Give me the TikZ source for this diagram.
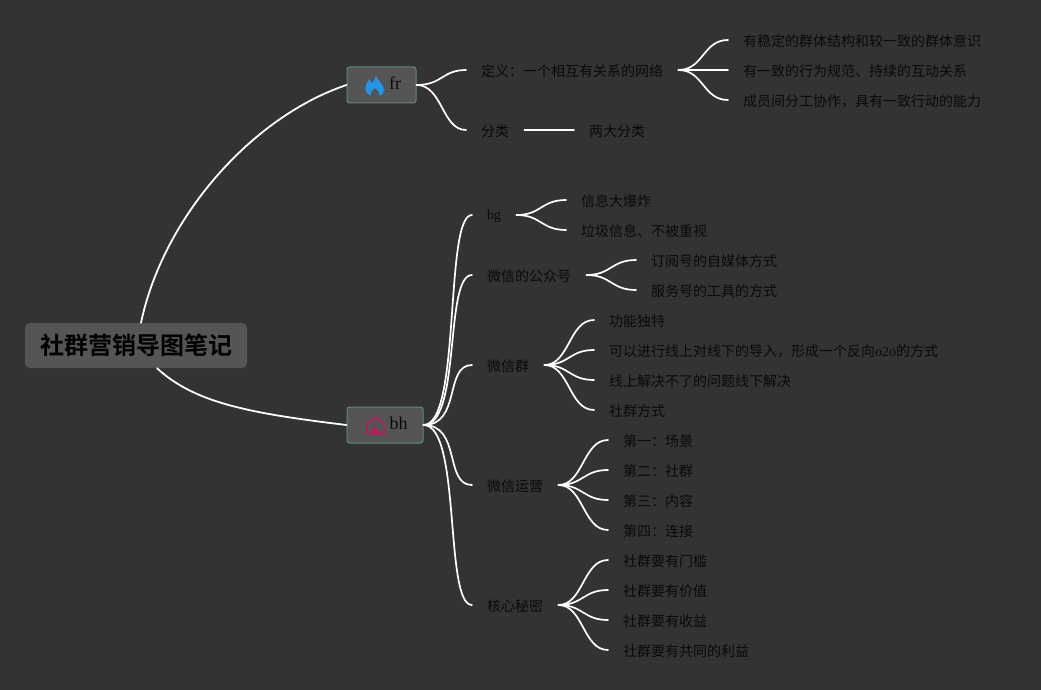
\documentclass[tikz,border=0pt]{standalone}
\usepackage{fontspec}
\setmainfont{Liberation Serif}
\newfontfamily\cjk{Noto Sans CJK SC}
\newfontfamily\cjkb{Noto Sans CJK SC Bold}
\definecolor{bgc}{HTML}{333333}
\definecolor{boxc}{HTML}{555555}
\definecolor{edgec}{HTML}{5E8A80}
\definecolor{inkc}{HTML}{0A0A0A}
\definecolor{flamec}{HTML}{2196E8}
\definecolor{housec}{HTML}{C2185B}
\tikzset{
  x=1pt,y=-1pt,
  item/.style={anchor=west,inner xsep=15pt,inner ysep=0pt,text=inkc,font=\cjk\fontsize{14}{14}\selectfont,minimum height=16pt},
  branch/.style={draw=edgec,line width=1pt,fill=boxc,rounded corners=2.5pt,text=inkc,font=\fontsize{18}{18}\selectfont,minimum height=36pt,inner xsep=0pt,inner ysep=0pt},
  rootbox/.style={fill=boxc,rounded corners=5pt,text=black,font=\cjkb\fontsize{24}{24}\selectfont,minimum width=222pt,minimum height=45pt,inner sep=0pt},
  link/.style={draw=white,line width=1.7pt,line cap=round},
}
\newcommand{\lat}[1]{{\rmfamily #1}}
\begin{document}
\begin{tikzpicture}
\useasboundingbox (0,0) rectangle (1041,690);
\fill[bgc] (0,0) rectangle (1041,690);

\node[rootbox] (root) at (136,345.5) {\raisebox{-3pt}{社群营销导图笔记}};
\node[branch,minimum width=69pt] (fr) at (381.5,85) {\hspace*{27pt}\raisebox{4pt}{fr}};
\node[branch,minimum width=76pt] (bh) at (385,425) {\hspace*{27pt}\raisebox{4pt}{bh}};

% flame icon
\fill[flamec] (376,75) .. controls (377,81) and (384,84) .. (384,90)
  .. controls (384,93) and (382,95) .. (379,95.5) .. controls (380,93) and (378,90) .. (375,88)
  .. controls (372,90) and (370,93) .. (371,95.5) .. controls (368,95) and (365.5,92) .. (365.5,88)
  .. controls (365.5,85) and (368,82) .. (369,79) .. controls (370,81) and (371,82) .. (372,83)
  .. controls (374,81) and (376,78) .. (376,75) -- cycle;
% house icon
\draw[housec,line width=1.5pt,line join=round] (367,433.5) -- (367,424) -- (375,417) -- (384,424) -- (384,433.5) -- cycle;
\fill[housec] (370,434) .. controls (370,431) and (372,430) .. (373.5,429) -- (375,426) -- (376.5,429) .. controls (378,430) and (380,431) .. (380,434) -- cycle;

% first level
\node[item] (def) at (466,71) {定义：一个相互有关系的网络};
\node[item] (cls) at (466,131) {分类};
\node[item] (two) at (574,131) {两大分类};
\node[item] (d1) at (728,41) {有稳定的群体结构和较一致的群体意识};
\node[item] (d2) at (728,71) {有一致的行为规范、持续的互动关系};
\node[item] (d3) at (728,101) {成员间分工协作，具有一致行动的能力};

\node[item] (bg) at (472,216) {\raisebox{-3pt}{\lat{bg}}};
\node[item] (gzh) at (472,276) {微信的公众号};
\node[item] (wxq) at (472,366) {微信群};
\node[item] (yy) at (472,486) {微信运营};
\node[item] (mm) at (472,606) {核心秘密};

\node[item] (bg1) at (566,201) {信息大爆炸};
\node[item] (bg2) at (566,231) {垃圾信息、不被重视};
\node[item] (g1) at (636,261) {订阅号的自媒体方式};
\node[item] (g2) at (636,291) {服务号的工具的方式};
\node[item] (q1) at (594,321) {功能独特};
\node[item] (q2) at (594,351) {可以进行线上对线下的导入，形成一个反向\lat{o2o}的方式};
\node[item] (q3) at (594,381) {线上解决不了的问题线下解决};
\node[item] (q4) at (594,411) {社群方式};
\node[item] (y1) at (608,441) {第一：场景};
\node[item] (y2) at (608,471) {第二：社群};
\node[item] (y3) at (608,501) {第三：内容};
\node[item] (y4) at (608,531) {第四：连接};
\node[item] (m1) at (608,561) {社群要有门槛};
\node[item] (m2) at (608,591) {社群要有价值};
\node[item] (m3) at (608,621) {社群要有收益};
\node[item] (m4) at (608,651) {社群要有共同的利益};

% root connectors
\draw[link,line width=1.8pt] ([xshift=5pt]root.north) .. controls ([xshift=27pt,yshift=105pt]root.north) and ([xshift=-95pt,yshift=-32pt]fr.west) .. (fr.west);
\draw[link,line width=1.8pt] ([xshift=21pt]root.south) .. controls ([xshift=58pt,yshift=-34pt]root.south) and ([xshift=-100pt,yshift=12pt]bh.west) .. (bh.west);

% S curves
\foreach \b in {def,cls}
  \draw[link] (fr.east) .. controls +(26,0) and ([xshift=-24pt,yshift=1pt]\b.west) .. ([yshift=1pt]\b.west);
\foreach \b in {bg,gzh,wxq,yy,mm}
  \draw[link] (bh.east) .. controls +(38,0) and ([xshift=-28pt,yshift=1pt]\b.west) .. ([yshift=1pt]\b.west);
\foreach \a/\b in {def/d1,def/d2,def/d3,bg/bg1,bg/bg2,gzh/g1,gzh/g2,wxq/q1,wxq/q2,wxq/q3,wxq/q4,yy/y1,yy/y2,yy/y3,yy/y4,mm/m1,mm/m2,mm/m3,mm/m4}
  \draw[link] ([yshift=1pt]\a.east) .. controls ([xshift=25pt,yshift=1pt]\a.east) and ([xshift=-25pt,yshift=1pt]\b.west) .. ([yshift=1pt]\b.west);
\draw[link] ([yshift=1pt]cls.east) -- ([yshift=1pt]two.west);
\end{tikzpicture}
\end{document}
